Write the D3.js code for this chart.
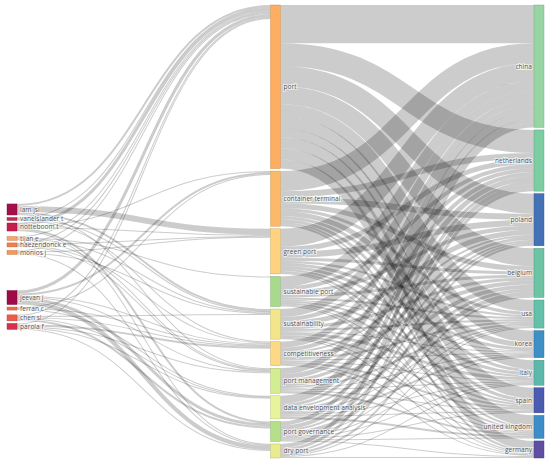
<!DOCTYPE html>
<html>
<head>
<meta charset="utf-8">
<script src="https://cdn.jsdelivr.net/npm/d3@7"></script>
<style>
body { margin: 0; background: #fff; }
text { font-family: "Open Sans", sans-serif; font-size: 6.6px; fill: #555; }
</style>
</head>
<body>
<svg id="chart" width="550" height="463"></svg>
<script>
// three fields: authors -> keywords -> countries
var authors = ["lam jsl", "vanelslander t", "notteboom t", "tijan e", "haezendonck e", "monios j",
               "jeevan j", "ferran c", "chen sl", "parola f"]
var authorColors = ["#a3104a", "#c7284f", "#c41e4c", "#f6a66a", "#f37d4c", "#f59758",
                    "#a00a48", "#ef6a46", "#ef5a42", "#d6304f"]

var keywords = ["port", "container terminal", "green port", "sustainable port", "sustainability",
                "competitiveness", "port management", "data envelopment analysis", "port governance", "dry port"]
var keywordColors = ["#fdae61", "#fdb96a", "#fed27f", "#a8d98c", "#f2e58c",
                     "#fdd985", "#d4ec92", "#e8f49b", "#b5df8a", "#e9eb8e"]

var countries = ["china", "netherlands", "poland", "belgium", "usa", "korea", "italy", "spain",
                 "united kingdom", "germany"]
var countryColors = ["#98d5a4", "#7dcda2", "#4472b6", "#6cc4a5", "#62c1a8", "#3d8fc6", "#5bb8aa",
                     "#4a5bb0", "#3d8ec8", "#5e4fa2"]

// rows: authors, columns: keywords
var authorKeyword = [
    [2, 0, 6, 0, 2, 0, 1, 0, 0, 0],
    [1, 0, 0, 0, 1, 1, 0, 0, 0, 0],
    [3, 1, 1, 0, 0, 0, 0, 0, 2, 1],
    [1, 0, 0, 1, 1, 0, 1, 0, 0, 0],
    [1, 0, 1, 0, 0, 1, 1, 0, 0, 0],
    [1, 0, 1, 0, 1, 0, 0, 0, 0, 1],
    [3, 2, 0, 0, 0, 1, 1, 0, 3, 4],
    [0, 1, 0, 0, 0, 1, 0, 1, 0, 0],
    [1, 0, 0, 0, 1, 1, 0, 1, 2, 0],
    [1, 0, 0, 0, 0, 2, 1, 1, 0, 1]
]

// rows: keywords, columns: countries
var keywordCountry = [
    [38, 23, 20, 18, 12, 12, 9, 11, 11, 9],
    [20, 6, 6, 5, 3, 5, 3, 3, 2, 2],
    [18, 5, 6, 3, 2, 3, 3, 2, 2, 1],
    [10, 4, 4, 3, 2, 1, 2, 2, 1, 1],
    [8, 4, 5, 3, 2, 1, 3, 2, 1, 1],
    [6, 4, 2, 4, 2, 1, 1, 2, 1, 1],
    [6, 5, 3, 4, 2, 1, 1, 1, 2, 0],
    [8, 3, 2, 3, 1, 2, 1, 1, 2, 0],
    [4, 4, 2, 4, 1, 1, 1, 1, 1, 1],
    [4, 3, 2, 2, 1, 0, 1, 0, 0, 1]
]

var top_y = 5, bottom_y = 458
var nodeWidth = 10, nodePad = 2.5

function build_graph() {
    var columns = [
        authors.map(function(n, i) { return {name: n, color: authorColors[i], col: 0, index: i} }),
        keywords.map(function(n, i) { return {name: n, color: keywordColors[i], col: 1, index: i} }),
        countries.map(function(n, i) { return {name: n, color: countryColors[i], col: 2, index: i} })
    ]
    var links = []
    function add_links(matrix, from, to) {
        matrix.forEach(function(row, i) {
            row.forEach(function(v, j) {
                if (v > 0) links.push({source: from[i], target: to[j], value: v})
            })
        })
    }
    add_links(authorKeyword, columns[0], columns[1])
    add_links(keywordCountry, columns[1], columns[2])

    columns.forEach(function(col) {
        col.forEach(function(n) { n.sourceLinks = []; n.targetLinks = [] })
    })
    links.forEach(function(l) {
        l.source.sourceLinks.push(l)
        l.target.targetLinks.push(l)
    })
    columns.forEach(function(col) {
        col.forEach(function(n) {
            n.value = Math.max(d3.sum(n.sourceLinks, function(l) { return l.value }),
                               d3.sum(n.targetLinks, function(l) { return l.value }))
        })
    })
    return {columns: columns, links: links}
}

function layout(graph) {
    var x = d3.scalePoint().domain([0, 1, 2]).range([7, 550 - 16])
    var ky = d3.min(graph.columns, function(col) {
        return (bottom_y - top_y - (col.length - 1) * nodePad) / d3.sum(col, function(n) { return n.value })
    })
    graph.ky = ky

    graph.columns.forEach(function(col, c) {
        col.forEach(function(n) {
            n.x0 = x(c)
            n.x1 = n.x0 + nodeWidth
            n.h = n.value * ky
        })
    })

    // keyword and country columns: stacked from the top
    graph.columns.slice(1).forEach(function(col) {
        var gap = (bottom_y - top_y - d3.sum(col, function(n) { return n.h })) / (col.length - 1)
        var y = top_y
        col.forEach(function(n) {
            n.y0 = y
            n.y1 = y + n.h
            y = n.y1 + gap
        })
    })

    // incoming link positions (sources kept in their list order)
    graph.columns.forEach(function(col) {
        col.forEach(function(n) {
            n.targetLinks.sort(function(a, b) { return a.source.index - b.source.index })
        })
    })
    graph.columns.slice(1).forEach(function(col) {
        col.forEach(function(n) {
            var y = n.y0
            n.targetLinks.forEach(function(l) {
                l.width = l.value * ky
                l.y1 = y + l.width / 2
                y += l.width
            })
        })
    })

    // author column: each node pulled to the mean height of its links, then packed
    var blocks = []
    graph.columns[0].forEach(function(n) {
        var centre = d3.sum(n.sourceLinks, function(l) { return l.value * l.y1 }) /
                     d3.sum(n.sourceLinks, function(l) { return l.value })
        var b = {members: [n], h: n.h, w: n.h, s: n.h * (centre - n.h / 2)}
        b.top = b.s / b.w
        while (blocks.length) {
            var p = blocks[blocks.length - 1]
            if (b.top >= p.top + p.h + nodePad) break
            blocks.pop()
            var shift = p.h + nodePad
            b = {members: p.members.concat(b.members), h: p.h + nodePad + b.h,
                 w: p.w + b.w, s: p.s + b.s - b.w * shift}
            b.top = b.s / b.w
        }
        blocks.push(b)
    })
    blocks.forEach(function(b) {
        var y = Math.max(top_y, Math.min(b.top, bottom_y - b.h))
        b.members.forEach(function(n) {
            n.y0 = y
            n.y1 = y + n.h
            y = n.y1 + nodePad
        })
    })

    // outgoing link positions, ordered by target height
    graph.columns.forEach(function(col) {
        col.forEach(function(n) {
            n.sourceLinks.sort(function(a, b) { return a.target.y0 - b.target.y0 })
            var y = n.y0
            n.sourceLinks.forEach(function(l) {
                l.width = l.value * ky
                l.y0 = y + l.width / 2
                y += l.width
            })
        })
    })
}

function draw(graph) {
    var svg = d3.select("#chart")

    var linkPath = d3.linkHorizontal()
        .source(function(d) { return [d.source.x1, d.y0] })
        .target(function(d) { return [d.target.x0, d.y1] })

    svg.append("g")
        .attr("fill", "none")
        .attr("stroke", "#000")
        .attr("stroke-opacity", 0.2)
        .selectAll("path")
        .data(graph.links)
        .join("path")
        .attr("d", linkPath)
        .attr("stroke-width", function(d) { return Math.max(1, d.width) })

    var nodes = [].concat.apply([], graph.columns)

    svg.append("g")
        .selectAll("rect")
        .data(nodes)
        .join("rect")
        .attr("x", function(d) { return d.x0 })
        .attr("y", function(d) { return d.y0 })
        .attr("width", nodeWidth)
        .attr("height", function(d) { return d.y1 - d.y0 })
        .attr("fill", function(d) { return d.color })
        .attr("stroke", function(d) { return d3.rgb(d.color).darker(0.8) })
        .attr("stroke-width", 0.4)

    svg.append("g")
        .selectAll("text")
        .data(nodes)
        .join("text")
        .attr("x", function(d) { return d.col == 2 ? d.x0 - 2 : d.x1 + 3 })
        .attr("y", function(d) { return (d.y0 + d.y1) / 2 })
        .attr("dy", "0.35em")
        .attr("text-anchor", function(d) { return d.col == 2 ? "end" : "start" })
        .attr("paint-order", "stroke")
        .attr("stroke", "#fff")
        .attr("stroke-opacity", 0.6)
        .attr("stroke-width", 2)
        .text(function(d) { return d.name })
}

var graph = build_graph()
layout(graph)
draw(graph)
</script>
</body>
</html>
